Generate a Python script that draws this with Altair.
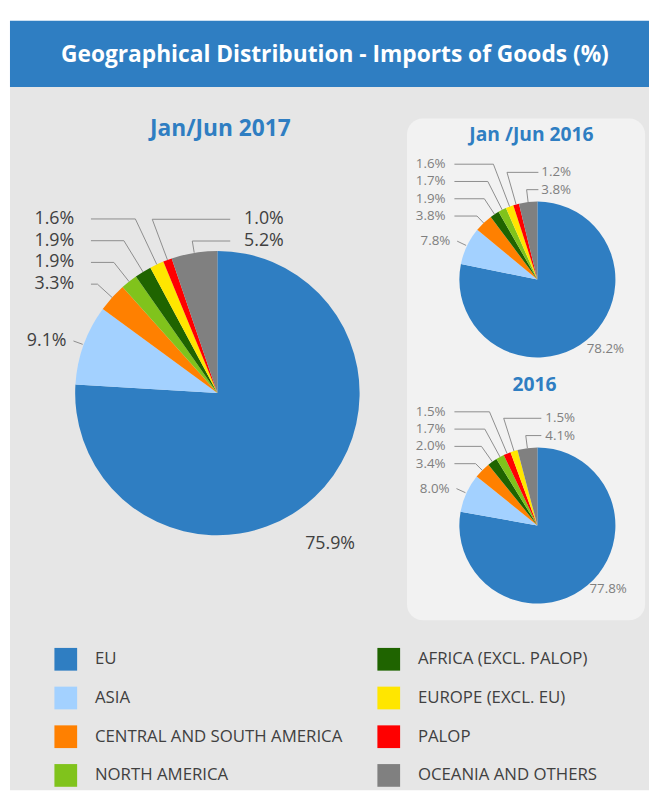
import math
import altair as alt
import pandas as pd

# ---------------- data ----------------
legend_regions = ["EU", "ASIA", "CENTRAL AND SOUTH AMERICA", "NORTH AMERICA",
                  "AFRICA (EXCL. PALOP)", "EUROPE (EXCL. EU)", "PALOP", "OCEANIA AND OTHERS"]
legend_colors = ["#2F7EC2", "#A3D1FF", "#FF8000", "#80C31C",
                 "#1F6400", "#FFE600", "#FF0000", "#808080"]

h1_2017_regions = ["EU", "ASIA", "CENTRAL AND SOUTH AMERICA", "NORTH AMERICA",
                   "AFRICA (EXCL. PALOP)", "EUROPE (EXCL. EU)", "PALOP", "OCEANIA AND OTHERS"]
h1_2017_values = [75.9, 9.1, 3.3, 1.9, 1.9, 1.6, 1.0, 5.2]

h1_2016_regions = ["EU", "ASIA", "CENTRAL AND SOUTH AMERICA", "AFRICA (EXCL. PALOP)",
                   "NORTH AMERICA", "EUROPE (EXCL. EU)", "PALOP", "OCEANIA AND OTHERS"]
h1_2016_values = [78.2, 7.8, 3.8, 1.9, 1.7, 1.6, 1.2, 3.8]

y2016_regions = ["EU", "ASIA", "CENTRAL AND SOUTH AMERICA", "AFRICA (EXCL. PALOP)",
                 "NORTH AMERICA", "PALOP", "EUROPE (EXCL. EU)", "OCEANIA AND OTHERS"]
y2016_values = [77.8, 8.0, 3.4, 2.0, 1.7, 1.5, 1.5, 4.1]

main_title = "Geographical Distribution - Imports of Goods (%)"

# ---------------- layout / style ----------------
W, H = 649, 787
FONT = "Open Sans"
BLUE = "#2F7EC2"
BG = "#E6E6E6"
PANEL = "#F2F2F2"
LINE = "#8C8C8C"

pies = [
    dict(title="Jan/Jun 2017", regions=h1_2017_regions, values=h1_2017_values,
         cx=212, cy=385, r=144, fs=18, tcolor="#404040", gap=22, big_r=1.325, big_da=6.5,
         left_text=-1, left_line=16, right_text=27, right_line=13, top_gap=10,
         title_x=215, title_y=125, title_fs=23),
    dict(title="Jan /Jun 2016", regions=h1_2016_regions, values=h1_2016_values,
         cx=536, cy=270, r=79, fs=13.5, tcolor="#7F7F7F", gap=17.5, big_r=1.25, big_da=-5,
         left_text=-14, left_line=-5, right_text=4, right_line=1, top_gap=12,
         title_x=530, title_y=130, title_fs=19.5),
    dict(title="2016", regions=y2016_regions, values=y2016_values,
         cx=536, cy=519, r=79, fs=13.5, tcolor="#7F7F7F", gap=17.5, big_r=1.22, big_da=-8,
         left_text=-14, left_line=-5, right_text=8, right_line=4, top_gap=12,
         title_x=533, title_y=383, title_fs=19.5),
]


def spread(nat, gap):
    clusters = [[y] for y in nat]

    def start(cl):
        return sum(cl) / len(cl) - gap * (len(cl) - 1) / 2

    merged = True
    while merged:
        merged = False
        for k in range(len(clusters) - 1):
            a, b = clusters[k], clusters[k + 1]
            if start(a) + gap * len(a) > start(b):
                clusters[k] = a + b
                del clusters[k + 1]
                merged = True
                break
    out = []
    for cl in clusters:
        s = start(cl)
        out += [s + gap * j for j in range(len(cl))]
    return out


def layout(p):
    cx, cy, r = p["cx"], p["cy"], p["r"]
    vals = p["values"]
    tot = sum(vals)
    n = len(vals)
    cum = 0.0
    sl = []
    for i, (reg, v) in enumerate(zip(p["regions"], vals)):
        mid = (cum + v / 2) / tot * 2 * math.pi
        cum += v
        sx, sy = math.sin(mid), -math.cos(mid)
        sl.append(dict(i=i, region=reg, value=v, mid=mid, sx=sx, sy=sy,
                       ax=cx + r * sx, ay=cy + r * sy, c=math.cos(mid)))
    texts, lines = [], []
    # largest slice: label outside, no leader
    b = sl[0]
    R = p["big_r"] * r
    a = b["mid"] + math.radians(p["big_da"])
    texts.append(dict(value=b["value"], lx=cx + R * math.sin(a), ly=cy - R * math.cos(a), align="center"))
    # second slice: short stub
    s = sl[1]
    p1 = (s["ax"] + 1 * s["sx"], s["ay"] + 1 * s["sy"])
    p2 = (s["ax"] + 11 * s["sx"], s["ay"] + 11 * s["sy"])
    lines += [dict(id=f"{p['title']}-1", pt=0, px=p1[0], py=p1[1]),
              dict(id=f"{p['title']}-1", pt=1, px=p2[0], py=p2[1])]
    texts.append(dict(value=s["value"], lx=p2[0] - 7, ly=p2[1], align="right"))
    # left column of stacked labels
    left = sl[2:n - 2]
    rnat = 1.1 * r + 20
    left = sorted(left, key=lambda d: cy + rnat * d["sy"])
    ys = spread([cy + rnat * d["sy"] for d in left], p["gap"])
    tx = cx - r + p["left_text"]
    lsx = cx - r + p["left_line"]
    for d, ly in zip(left, ys):
        t = max(0.0, (d["ay"] - ly) / d["c"]) if d["c"] > 0.05 else 0.0
        ex = max(d["ax"] + d["sx"] * t, lsx + 3)
        lid = f"{p['title']}-{d['i']}"
        lines += [dict(id=lid, pt=0, px=lsx, py=ly), dict(id=lid, pt=1, px=ex, py=ly),
                  dict(id=lid, pt=2, px=d["ax"], py=d["ay"])]
        texts.append(dict(value=d["value"], lx=tx, ly=ly, align="right"))
    # right column (above the pie)
    right = sorted(sl[n - 2:], key=lambda d: d["ax"])
    ybot = cy - r - p["top_gap"]
    k = len(right)
    rtx = cx + p["right_text"]
    rlx = cx + p["right_line"]
    for j, d in enumerate(right):
        ly = ybot - p["gap"] * (k - 1 - j)
        t = max(0.0, (d["ay"] - ly) / d["c"]) if d["c"] > 0.05 else 0.0
        ex = min(d["ax"] + d["sx"] * t, rlx - 3)
        lid = f"{p['title']}-{d['i']}"
        lines += [dict(id=lid, pt=0, px=rlx, py=ly), dict(id=lid, pt=1, px=ex, py=ly),
                  dict(id=lid, pt=2, px=d["ax"], py=d["ay"])]
        texts.append(dict(value=d["value"], lx=rtx, ly=ly, align="left"))
    return pd.DataFrame(texts), pd.DataFrame(lines)


color_scale = alt.Scale(domain=legend_regions, range=legend_colors)
legend = alt.Legend(orient="none", legendX=47, legendY=643, columns=2, title=None,
                    symbolType="square", symbolSize=529, symbolStrokeWidth=0,
                    labelFont=FONT, labelFontSize=17, labelColor="#404040",
                    labelOffset=18, rowPadding=16.2, columnPadding=35, labelLimit=400,
                    padding=0)

one = pd.DataFrame({"a": [0]})

layers = []
# backgrounds
layers.append(alt.Chart(one).mark_rect(color=BG).encode(
    x=alt.value(2), x2=alt.value(W), y=alt.value(75), y2=alt.value(H)))
layers.append(alt.Chart(one).mark_rect(color=BLUE).encode(
    x=alt.value(2), x2=alt.value(W), y=alt.value(8), y2=alt.value(75)))
layers.append(alt.Chart(one).mark_rect(color=PANEL, cornerRadius=16).encode(
    x=alt.value(404), x2=alt.value(645), y=alt.value(107), y2=alt.value(615)))
layers.append(alt.Chart(one).mark_text(text=main_title, font=FONT, fontSize=23, fontWeight="bold",
                                       color="white", align="center", baseline="alphabetic").encode(
    x=alt.value(331), y=alt.value(50)))

for p in pies:
    df = pd.DataFrame({"region": p["regions"], "value": p["values"], "k": list(range(len(p["values"])))})
    arc = alt.Chart(df).mark_arc(outerRadius=p["r"]).encode(
        theta=alt.Theta("value:Q", stack=True),
        order=alt.Order("k:Q"),
        color=alt.Color("region:N", scale=color_scale, legend=legend),
        x=alt.value(p["cx"]), y=alt.value(p["cy"]))
    tdf, ldf = layout(p)
    ln = alt.Chart(ldf).mark_line(color=LINE, strokeWidth=1).encode(
        x=alt.X("px:Q", scale=None, axis=None),
        y=alt.Y("py:Q", scale=None, axis=None),
        detail="id:N", order="pt:Q")
    txt_layers = []
    for al in ["left", "right", "center"]:
        sub = tdf[tdf["align"] == al]
        if len(sub) == 0:
            continue
        txt_layers.append(alt.Chart(sub).transform_calculate(
            lab="format(datum.value, '.1f') + '%'").mark_text(
            font=FONT, fontSize=p["fs"], color=p["tcolor"], align=al, baseline="middle").encode(
            x=alt.X("lx:Q", scale=None, axis=None),
            y=alt.Y("ly:Q", scale=None, axis=None),
            text="lab:N"))
    ttl = alt.Chart(one).mark_text(text=p["title"], font=FONT, fontSize=p["title_fs"], fontWeight="bold",
                                   color=BLUE, align="center", baseline="alphabetic").encode(
        x=alt.value(p["title_x"]), y=alt.value(p["title_y"]))
    layers += [arc, ln] + txt_layers + [ttl]

chart = alt.layer(*layers).resolve_scale(theta="independent").properties(
    width=W, height=H, padding=0, autosize=alt.AutoSizeParams(type="none"),
    background="white"
).configure_view(stroke=None)

chart.save("out.html", embed_options={"renderer": "svg", "actions": False})
